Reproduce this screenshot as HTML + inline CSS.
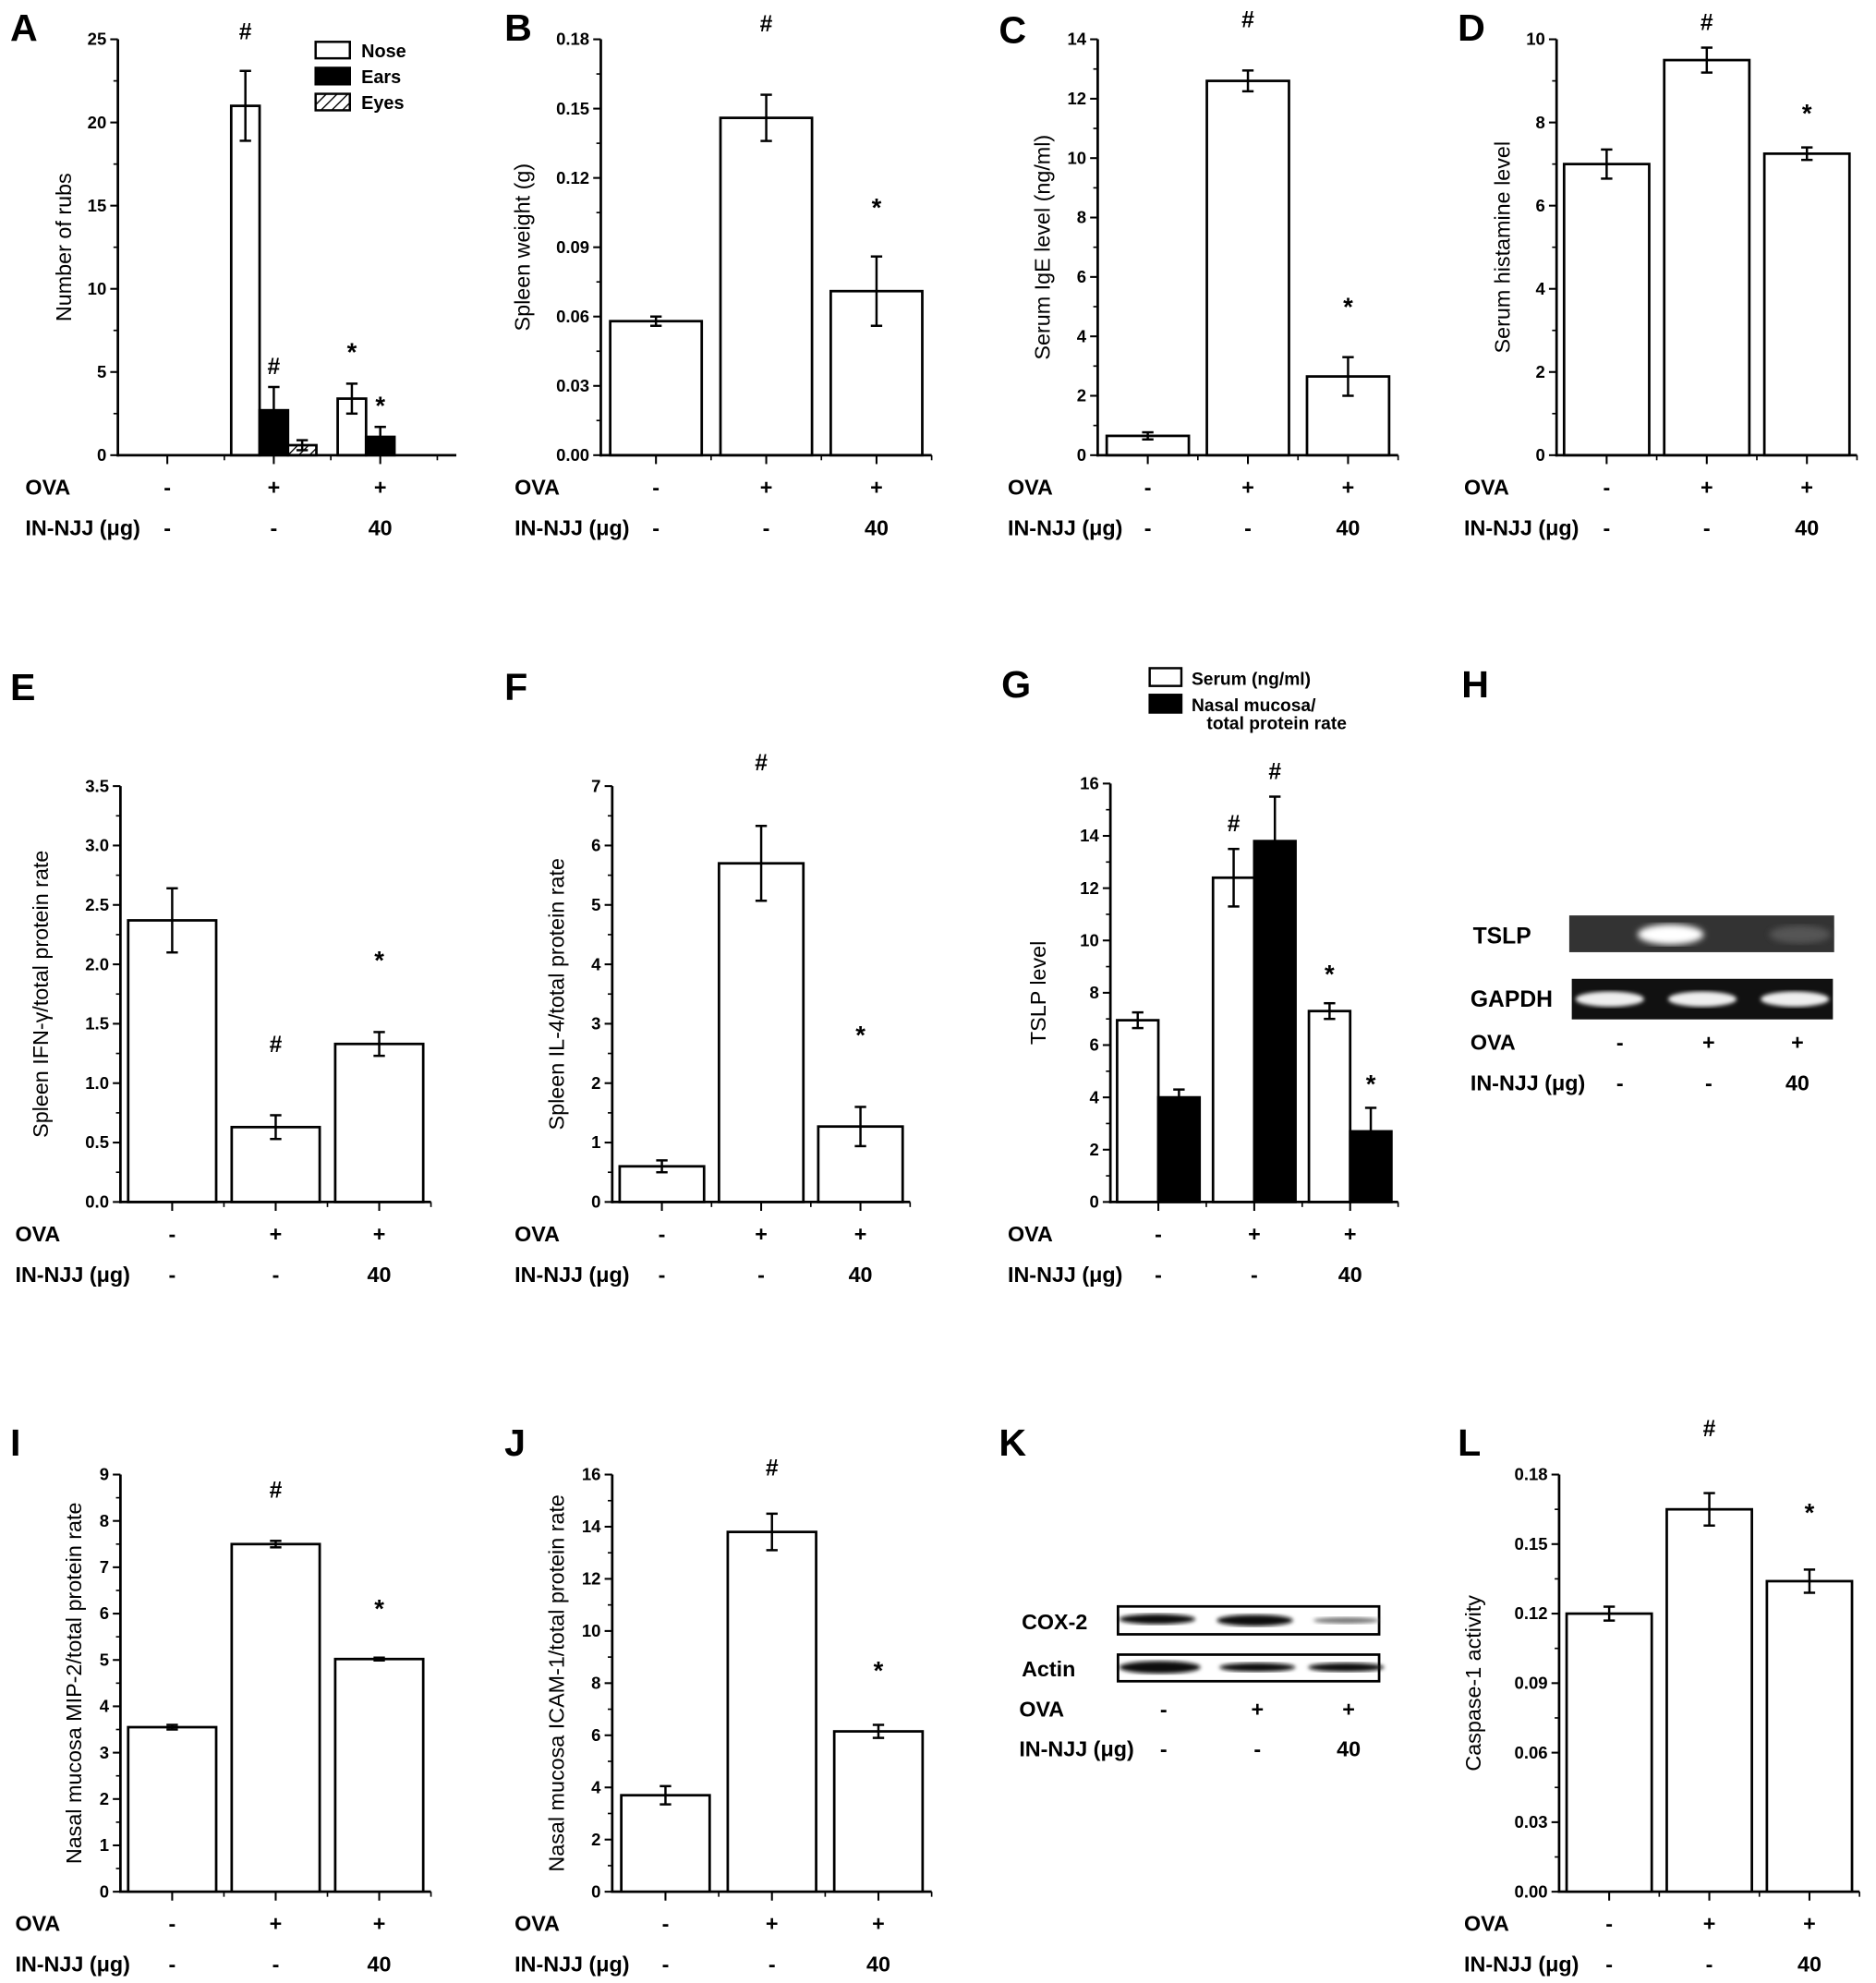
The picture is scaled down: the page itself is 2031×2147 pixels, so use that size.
<!DOCTYPE html>
<html><head><meta charset="utf-8"><style>
html,body{margin:0;padding:0;background:#fff;}
svg{display:block;}
text{font-family:"Liberation Sans",Arial,sans-serif;}
</style></head>
<body>
<svg id="fig" xmlns="http://www.w3.org/2000/svg" width="2031" height="2147" viewBox="0 0 1480 1564" preserveAspectRatio="none">
<defs>
<pattern id="hatch" patternUnits="userSpaceOnUse" width="6" height="6" patternTransform="rotate(45)">
<rect width="6" height="6" fill="#fff"/><line x1="0" y1="0" x2="0" y2="6" stroke="#000" stroke-width="2"/>
</pattern>
<filter id="blur"><feGaussianBlur stdDeviation="2.5"/></filter>
<filter id="blur2"><feGaussianBlur stdDeviation="1.5"/></filter>
</defs>
</svg>
<script>
const ovaLabels=["-","+","+"];
const njjLabels=["-","-","40"];
// A
const aTicks=[0,5,10,15,20,25];
const aNose=[0,21,3.4], aNoseErr=[0,2.1,0.9];
const aEars=[0,2.7,1.1], aEarsErr=[0,1.4,0.6];
const aEyes=[0,0.6,0], aEyesErr=[0,0.3,0];
// B
const bTicks=[0,0.03,0.06,0.09,0.12,0.15,0.18];
const bVals=[0.058,0.146,0.071], bErr=[0.002,0.01,0.015];
// C
const cTicks=[0,2,4,6,8,10,12,14];
const cVals=[0.65,12.6,2.65], cErr=[0.12,0.35,0.65];
// D
const dTicks=[0,2,4,6,8,10];
const dVals=[7.0,9.5,7.25], dErr=[0.35,0.3,0.15];
// E
const eTicks=[0,0.5,1,1.5,2,2.5,3,3.5];
const eVals=[2.37,0.63,1.33], eErr=[0.27,0.1,0.1];
// F
const fTicks=[0,1,2,3,4,5,6,7];
const fVals=[0.6,5.7,1.27], fErr=[0.1,0.63,0.33];
// G
const gTicks=[0,2,4,6,8,10,12,14,16];
const gSerum=[6.95,12.4,7.3], gSerumErr=[0.3,1.1,0.3];
const gNasal=[4.0,13.8,2.7], gNasalErr=[0.3,1.7,0.9];
// I
const iTicks=[0,1,2,3,4,5,6,7,8,9];
const iVals=[3.55,7.5,5.02], iErr=[0.05,0.07,0.03];
// J
const jTicks=[0,2,4,6,8,10,12,14,16];
const jVals=[3.7,13.8,6.15], jErr=[0.35,0.7,0.25];
// L
const lTicks=[0,0.03,0.06,0.09,0.12,0.15,0.18];
const lVals=[0.12,0.165,0.134], lErr=[0.003,0.007,0.005];

const svg=document.getElementById('fig');
const NS='http://www.w3.org/2000/svg';
function mk(tag,attrs,parent,txt){const e=document.createElementNS(NS,tag);for(const k in attrs)e.setAttribute(k,attrs[k]);if(txt!==undefined)e.textContent=txt;(parent||svg).appendChild(e);return e;}

function rowLabels(g,lx,centers,yOva,yNjj){
  let t=mk('text',{x:lx,y:yOva,'font-size':17,'font-weight':'bold'},g,'OVA');
  
  
  t=mk('text',{x:lx,y:yNjj,'font-size':17,'font-weight':'bold'},g,'IN-NJJ (\u03bcg)');
  
  
  centers.forEach((cx,i)=>{
    let a=mk('text',{x:cx,y:yOva,'font-size':17,'font-weight':'bold','text-anchor':'middle'},g,ovaLabels[i]);
    
    
    let b=mk('text',{x:cx,y:yNjj,'font-size':17,'font-weight':'bold','text-anchor':'middle'},g,njjLabels[i]);
    
    
  });
}

function panel(p){
  const g=mk('g',{});
  
  
  let L=mk('text',{x:p.lx,y:p.ly,'font-size':30,'font-weight':'bold'},g,p.id);
  
  
  const max=p.ticks[p.ticks.length-1];
  const ys=v=>p.y0-(v/max)*(p.y0-p.yTop);
  const bw=(p.x1-p.x0)/3;
  const xc=i=>p.x0+bw*(i+0.5)+(p.shift||0);
  let ax=mk('line',{x1:p.x0,y1:p.y0+1,x2:p.x0,y2:p.yTop,stroke:'#000','stroke-width':2},g);
  
  
  ax=mk('line',{x1:p.x0-1,y1:p.y0,x2:p.x1+(p.ext||0),y2:p.y0,stroke:'#000','stroke-width':2},g);
  
  
  p.ticks.forEach((t,i)=>{
    const y=ys(t);
    mk('line',{x1:p.x0-6,y1:y,x2:p.x0,y2:y,stroke:'#000','stroke-width':1.5},g);
    let tl=mk('text',{x:p.x0-9,y:y+4.5,'font-size':13.5,'font-weight':'bold','text-anchor':'end'},g,t.toFixed(p.dec));
    
    
    if(i<p.ticks.length-1){const ym=ys((t+p.ticks[i+1])/2);mk('line',{x1:p.x0-3.5,y1:ym,x2:p.x0,y2:ym,stroke:'#000','stroke-width':1.2},g);}
  });
  for(let i=0;i<3;i++){
    mk('line',{x1:xc(i),y1:p.y0,x2:xc(i),y2:p.y0+7,stroke:'#000','stroke-width':1.5},g);
    mk('line',{x1:p.x0+bw*(i+1),y1:p.y0,x2:p.x0+bw*(i+1),y2:p.y0+4,stroke:'#000','stroke-width':1.2},g);
  }
  let yl=mk('text',{x:0,y:0,'font-size':17,'text-anchor':'middle',transform:`translate(${p.ylx},${(p.y0+p.yTop)/2}) rotate(-90)`},g,p.ylabel);
  
  
  const ns=p.series.length;
  const gw=bw*(p.gw||0.8);
  const sw=gw/ns;
  p.series.forEach((s,si)=>{
    s.vals.forEach((v,i)=>{
      if(v<=0)return;
      const bx=xc(i)-gw/2+si*sw;
      let r=mk('rect',{x:bx,y:ys(v),width:sw,height:p.y0-ys(v),fill:s.fill,stroke:'#000','stroke-width':2},g);
      
      
      const e=s.errs[i];
      if(e>0){
        const cx=bx+sw/2;
        const eb=mk('g',{stroke:'#000','stroke-width':1.8},g);
        
        
        mk('line',{x1:cx,y1:ys(v-e),x2:cx,y2:ys(v+e)},eb);
        mk('line',{x1:cx-4.5,y1:ys(v-e),x2:cx+4.5,y2:ys(v-e)},eb);
        mk('line',{x1:cx-4.5,y1:ys(v+e),x2:cx+4.5,y2:ys(v+e)},eb);
      }
    });
  });
  (p.marks||[]).forEach(m=>{
    const s=p.series[m[1]];
    const cx=xc(m[0])-gw/2+m[1]*sw+sw/2;
    const y=ys(s.vals[m[0]]+s.errs[m[0]])-m[3];
    let t=mk('text',{x:cx,y:y,'font-size':m[2]=='#'?18:20,'font-weight':'bold','text-anchor':'middle'},g,m[2]);
    
    
  });
  rowLabels(g,p.rlx,[0,1,2].map(xc),p.y0+31,p.y0+63);
  return g;
}

const W='#fff',K='#000';
const gA=panel({id:'A',lx:8,ly:32,x0:93,x1:345,ext:15,shift:-3,y0:359,yTop:31,ticks:aTicks,dec:0,ylx:56,ylabel:'Number of rubs',rlx:20,gw:0.8,
 series:[{name:'nose',vals:aNose,errs:aNoseErr,fill:W},{name:'ears',vals:aEars,errs:aEarsErr,fill:K},{name:'eyes',vals:aEyes,errs:aEyesErr,fill:'url(#hatch)'}],
 marks:[[1,0,'#',25],[1,1,'#',10],[2,0,'*',18],[2,1,'*',10]]});
[['Nose',W],['Ears',K],['Eyes','url(#hatch)']].forEach((l,i)=>{
  const lg=mk('g',{},gA);
  
  
  mk('rect',{x:249,y:33+i*20.5,width:27,height:13,fill:l[1],stroke:'#000','stroke-width':1.8},lg);
  mk('text',{x:285,y:45+i*20.5,'font-size':14.5,'font-weight':'bold'},lg,l[0]);
});
panel({id:'B',lx:398,ly:32,x0:474,x1:735,y0:359,yTop:31,ticks:bTicks,dec:2,ylx:418,ylabel:'Spleen weight (g)',rlx:406,gw:0.83,
 series:[{name:'spleen',vals:bVals,errs:bErr,fill:W}],marks:[[1,0,'#',50],[2,0,'*',32]]});
panel({id:'C',lx:788,ly:34,x0:866,x1:1103,y0:359,yTop:31,ticks:cTicks,dec:0,ylx:828,ylabel:'Serum IgE level (ng/ml)',rlx:795,gw:0.82,
 series:[{name:'ige',vals:cVals,errs:cErr,fill:W}],marks:[[1,0,'#',34],[2,0,'*',33]]});
panel({id:'D',lx:1150,ly:32,x0:1228,x1:1465,y0:359,yTop:31,ticks:dTicks,dec:0,ylx:1191,ylabel:'Serum histamine level',rlx:1155,gw:0.85,
 series:[{name:'histamine',vals:dVals,errs:dErr,fill:W}],marks:[[1,0,'#',14],[2,0,'*',20]]});
panel({id:'E',lx:8,ly:552,x0:95,x1:340,y0:948,yTop:620,ticks:eTicks,dec:1,ylx:38,ylabel:'Spleen IFN-\u03b3/total protein rate',rlx:12,gw:0.85,
 series:[{name:'ifn',vals:eVals,errs:eErr,fill:W}],marks:[[1,0,'#',50],[2,0,'*',50]]});
panel({id:'F',lx:398,ly:552,x0:483,x1:718,y0:948,yTop:620,ticks:fTicks,dec:0,ylx:445,ylabel:'Spleen IL-4/total protein rate',rlx:406,gw:0.85,
 series:[{name:'il4',vals:fVals,errs:fErr,fill:W}],marks:[[1,0,'#',44],[2,0,'*',50]]});
const gG=panel({id:'G',lx:790,ly:550,x0:876,x1:1103,y0:948,yTop:618,ticks:gTicks,dec:0,ylx:825,ylabel:'TSLP level',rlx:795,gw:0.86,
 series:[{name:'serum',vals:gSerum,errs:gSerumErr,fill:W},{name:'nasal',vals:gNasal,errs:gNasalErr,fill:K}],
 marks:[[1,0,'#',14],[1,1,'#',14],[2,0,'*',16],[2,1,'*',12]]});
[['Serum (ng/ml)',W],['Nasal mucosa/',K]].forEach((l,i)=>{
  const lg=mk('g',{},gG);
  
  
  mk('rect',{x:907,y:527+i*21,width:25,height:14,fill:l[1],stroke:'#000','stroke-width':1.8},lg);
  mk('text',{x:940,y:540+i*21,'font-size':14,'font-weight':'bold'},lg,l[0]);
});
mk('text',{x:952,y:575,'font-size':14,'font-weight':'bold'},gG,'total protein rate');
panel({id:'I',lx:8,ly:1148,x0:95,x1:340,y0:1492,yTop:1163,ticks:iTicks,dec:0,ylx:64,ylabel:'Nasal mucosa MIP-2/total protein rate',rlx:12,gw:0.85,
 series:[{name:'mip2',vals:iVals,errs:iErr,fill:W}],marks:[[1,0,'#',34],[2,0,'*',32]]});
panel({id:'J',lx:398,ly:1148,x0:483,x1:735,y0:1492,yTop:1163,ticks:jTicks,dec:0,ylx:445,ylabel:'Nasal mucosa ICAM-1/total protein rate',rlx:406,gw:0.83,
 series:[{name:'icam1',vals:jVals,errs:jErr,fill:W}],marks:[[1,0,'#',30],[2,0,'*',36]]});
panel({id:'L',lx:1150,ly:1148,x0:1230,x1:1467,y0:1492,yTop:1163,ticks:lTicks,dec:2,ylx:1168,ylabel:'Caspase-1 activity',rlx:1155,gw:0.85,
 series:[{name:'caspase',vals:lVals,errs:lErr,fill:W}],marks:[[1,0,'#',45],[2,0,'*',38]]});

// Panel H gels
const gH=mk('g',{});


let hl=mk('text',{x:1153,y:550,'font-size':30,'font-weight':'bold'},gH,'H');


let gel=mk('g',{},gH);


mk('rect',{x:1238,y:722,width:209,height:29,fill:'#333'},gel);
mk('ellipse',{cx:1318,cy:737,rx:26,ry:8,fill:'#fff',filter:'url(#blur)'},gel);
mk('ellipse',{cx:1420,cy:737,rx:24,ry:7,fill:'#555',filter:'url(#blur)'},gel);
gel=mk('g',{},gH);


mk('rect',{x:1240,y:772,width:206,height:32,fill:'#111'},gel);
[1270,1343,1416].forEach(c=>mk('ellipse',{cx:c,cy:788,rx:27,ry:6,fill:'#eee',filter:'url(#blur2)'},gel));
mk('text',{x:1162,y:744,'font-size':18,'font-weight':'bold'},gH,'TSLP');
mk('text',{x:1160,y:794,'font-size':18,'font-weight':'bold'},gH,'GAPDH');
rowLabels(gH,1160,[1278,1348,1418],828,860);

// Panel K
const gK=mk('g',{});


let kl=mk('text',{x:788,y:1148,'font-size':30,'font-weight':'bold'},gK,'K');


gel=mk('g',{},gK);


mk('rect',{x:882,y:1267,width:206,height:22,fill:'#fff',stroke:'#000','stroke-width':2},gel);
mk('ellipse',{cx:913,cy:1277,rx:30,ry:4,fill:'#111',filter:'url(#blur2)'},gel);
mk('ellipse',{cx:990,cy:1278,rx:30,ry:4.5,fill:'#111',filter:'url(#blur2)'},gel);
mk('ellipse',{cx:1062,cy:1278,rx:26,ry:2.5,fill:'#777',filter:'url(#blur2)'},gel);
gel=mk('g',{},gK);


mk('rect',{x:882,y:1305,width:206,height:21,fill:'#fff',stroke:'#000','stroke-width':2},gel);
mk('ellipse',{cx:915,cy:1315,rx:32,ry:5,fill:'#111',filter:'url(#blur2)'},gel);
mk('ellipse',{cx:992,cy:1315,rx:30,ry:3.5,fill:'#111',filter:'url(#blur2)'},gel);
mk('ellipse',{cx:1062,cy:1315,rx:30,ry:3.5,fill:'#111',filter:'url(#blur2)'},gel);
mk('text',{x:806,y:1285,'font-size':17,'font-weight':'bold'},gK,'COX-2');
mk('text',{x:806,y:1322,'font-size':17,'font-weight':'bold'},gK,'Actin');
rowLabels(gK,804,[918,992,1064],1354,1385);
</script>
</body></html>
